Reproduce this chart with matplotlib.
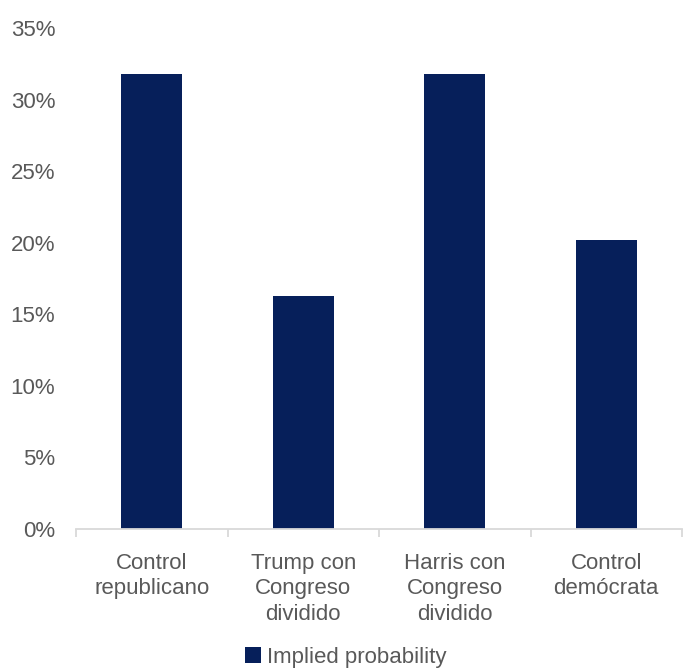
import matplotlib
matplotlib.use("Agg")
import matplotlib.pyplot as plt
from matplotlib.ticker import PercentFormatter

categories = ["Control\nrepublicano", "Trump con\nCongreso\ndividido", "Harris con\nCongreso\ndividido", "Control\ndemócrata"]
values = [31.8, 16.3, 31.8, 20.2]
series_name = "Implied probability"
yticks = [0, 5, 10, 15, 20, 25, 30, 35]

plt.rcParams['font.family'] = ['Liberation Sans', 'DejaVu Sans']
text_color = "#595959"
bar_color = "#061F5A"
fs = 16

fig = plt.figure(figsize=(6.92, 6.68), dpi=100)
ax = fig.add_axes([76/692, (668-529)/668, (682-76)/692, (529-28)/668])
x = list(range(len(categories)))
ax.bar(x, values, width=0.40, color=bar_color, label=series_name, zorder=2)
ax.set_xlim(-0.5, len(categories)-0.5)
ax.set_ylim(0, 35)
ax.set_yticks(yticks)
ax.yaxis.set_major_formatter(PercentFormatter(decimals=0))
for s in ["top", "right", "left"]:
    ax.spines[s].set_visible(False)
ax.spines["bottom"].set_color("#d9d9d9")
ax.spines["bottom"].set_linewidth(1.3)
ax.tick_params(axis="y", length=0, labelsize=fs, labelcolor=text_color, pad=15)
ax.set_xticks([i - 0.5 for i in range(len(categories)+1)], minor=True)
ax.set_xticks(x)
ax.set_xticklabels(categories, linespacing=1.3)
ax.tick_params(axis="x", which="major", length=0, labelsize=fs, labelcolor=text_color, pad=17)
ax.tick_params(axis="x", which="minor", length=6, width=1.3, color="#d9d9d9")

leg = fig.legend(loc="lower center", bbox_to_anchor=(0.5, -0.03), frameon=False,
                 fontsize=fs, handlelength=0.7, handleheight=0.7, handletextpad=0.3)
for t in leg.get_texts():
    t.set_color(text_color)

fig.savefig("out.png", dpi=100)
